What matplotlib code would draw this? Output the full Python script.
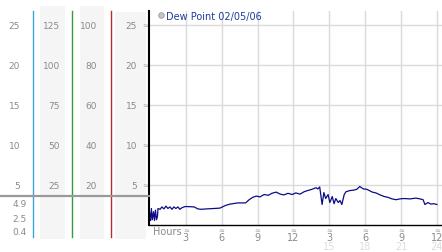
import numpy as np
import matplotlib.pyplot as plt
from matplotlib.lines import Line2D

# Dew point trace (hours, value)
hours = [0.0, 0.05, 0.12, 0.2, 0.3, 0.38, 0.46, 0.55, 0.63, 0.67, 0.85, 1.0, 1.17, 1.34,
         1.5, 1.67, 1.84, 2.0, 2.17, 2.34, 2.5, 2.68, 2.85, 3.0, 3.7, 4.0, 4.3, 4.7, 5.35,
         5.85, 6.35, 6.7, 7.35, 8.0, 8.3, 8.6, 8.9, 9.2, 9.55, 9.9, 10.2, 10.55, 10.9, 11.2,
         11.55, 11.9, 12.2, 12.55, 12.9, 13.2, 13.55, 13.9, 14.05, 14.2, 14.4, 14.55, 14.7,
         14.9, 15.05, 15.25, 15.4, 15.55, 15.75, 15.9, 16.05, 16.25, 16.4, 16.75, 17.05,
         17.3, 17.55, 17.85, 18.15, 18.6, 18.9, 19.25, 19.6, 19.9, 20.25, 20.6, 20.9, 21.25,
         21.75, 22.25, 22.6, 22.85, 23.0, 23.25, 23.5, 23.75, 24.0]
dew = [1.4, 0.5, 2.0, 0.6, 1.6, 0.5, 1.8, 0.6, 1.0, 2.0, 1.9, 2.2, 1.95, 2.3,
       2.0, 2.2, 1.9, 2.2, 2.0, 2.2, 1.9, 2.1, 2.2, 2.25, 2.2, 1.95, 1.9, 1.95, 2.0,
       2.05, 2.4, 2.55, 2.7, 2.7, 3.1, 3.4, 3.55, 3.45, 3.75, 3.65, 3.9, 4.05, 3.8, 3.7,
       3.9, 3.75, 3.95, 3.8, 4.1, 4.25, 4.4, 4.6, 4.45, 4.7, 2.5, 4.0, 3.25,
       3.75, 2.75, 3.5, 2.6, 3.25, 2.75, 3.0, 2.5, 3.75, 4.1, 4.25, 4.3,
       4.4, 4.75, 4.45, 4.4, 4.05, 3.95, 3.7, 3.5, 3.4, 3.2, 3.1, 3.2, 3.25,
       3.2, 3.3, 3.2, 3.1, 2.5, 2.75, 2.55, 2.6, 2.5]

x_ticks = [3, 6, 9, 12, 15, 18, 21, 24]
x_labels = ['3', '6', '9', '12', '3', '6', '9', '12']
x_labels2 = ['', '', '', '', '15', '18', '21', '24']
y_ticks = [5, 10, 15, 20, 25]
scale2 = [25, 50, 75, 100, 125]
scale3 = [20, 40, 60, 80, 100]
low_ticks = [0.4, 2.5, 4.9]

W, H = 442, 253
fig = plt.figure(figsize=(W / 100, H / 100), dpi=100)

def px(x0, y0, x1, y1):
    # pixel box -> figure fraction rect
    return [x0 / W, 1 - y1 / H, (x1 - x0) / W, (y1 - y0) / H]

lab_col = '#8a8a8a'
band_col = '#f5f5f5'
top, bot = 12, 225.5
ymax = 26.7

def bare(a):
    for s in a.spines.values():
        s.set_visible(False)
    a.set_xticks([])

# grey bands behind the side scales
for x0, y0, x1 in [(40, 7, 65), (80, 7, 104), (115, 13, 146)]:
    b = fig.add_axes(px(x0, y0, x1, 240))
    b.set_facecolor(band_col)
    bare(b)
    b.set_yticks([])

# side scales
def side_scale(xr, vmax, ticks):
    a = fig.add_axes(px(xr, top, xr + 4, bot))
    a.patch.set_alpha(0)
    bare(a)
    a.set_ylim(0, vmax)
    a.set_yticks(ticks)
    a.tick_params(axis='y', length=0, pad=0, labelsize=6.5, labelcolor=lab_col)
    return a

side_scale(20, ymax, y_ticks)
side_scale(60, ymax * 5, scale2)
side_scale(97, ymax * 4, scale3)
side_scale(137, ymax, y_ticks)

low = fig.add_axes(px(27, 197, 31, 238))
low.patch.set_alpha(0)
bare(low)
low.set_ylim(-0.56, 6.0)
low.set_yticks(low_ticks)
low.tick_params(axis='y', length=0, pad=0, labelsize=6.5, labelcolor=lab_col)

# coloured dividers and the grey break line
for xv, c in [(33, '#3aa6d6'), (72, '#3a9a3a'), (111, '#b03030')]:
    fig.add_artist(Line2D([xv / W] * 2, [1 - 12 / H, 1 - 238 / H], color=c, lw=1.0))
fig.add_artist(Line2D([0, 149 / W], [1 - 197 / H] * 2, color='#9a9a9a', lw=1.6))

# main chart
ax = fig.add_axes(px(149, top, 442, bot))
ax.plot(hours, dew, color='#0c0c86', lw=0.9)
ax.set_xlim(-0.08, 24.43)
ax.set_ylim(0, ymax)
ax.set_xticks(x_ticks)
ax.set_yticks(y_ticks)
ax.grid(True, color='#dadada', lw=1)
ax.set_axisbelow(True)
ax.spines['top'].set_visible(False)
ax.spines['right'].set_visible(False)
ax.spines['left'].set_linewidth(1.5)
ax.spines['bottom'].set_linewidth(1.0)
ax.tick_params(axis='both', length=0)
ax.set_yticklabels(['≈'] * len(y_ticks))
ax.tick_params(axis='y', pad=0.5, labelsize=5, labelcolor='#a0a0a0')
ax.set_xticklabels([])

xt = ax.get_xaxis_transform()
for h, l1, l2 in zip(x_ticks, x_labels, x_labels2):
    ax.text(h, -0.024, '≈', transform=xt, ha='center', va='center', fontsize=5, color='#a0a0a0')
    ax.text(h, -0.058, l1, transform=xt, ha='center', va='center', fontsize=7, color=lab_col)
    ax.text(h, -0.103, l2, transform=xt, ha='center', va='center', fontsize=7, color='#dcdcdc')
ax.text(0.014, -0.03, 'Hours', transform=ax.transAxes, ha='left', va='center',
        fontsize=7, color=lab_col)

handle = Line2D([], [], marker='o', linestyle='none', markersize=4,
                markerfacecolor='#c4c4c4', markeredgecolor='#9a9a9a', markeredgewidth=0.6)
ax.legend([handle], ['Dew Point 02/05/06'], loc='upper left', bbox_to_anchor=(0.015, 1.02),
          frameon=False, fontsize=7, labelcolor='#1f3c9e', handletextpad=0.1,
          handlelength=0.8, borderaxespad=0)

fig.savefig('out.png', dpi=100)
